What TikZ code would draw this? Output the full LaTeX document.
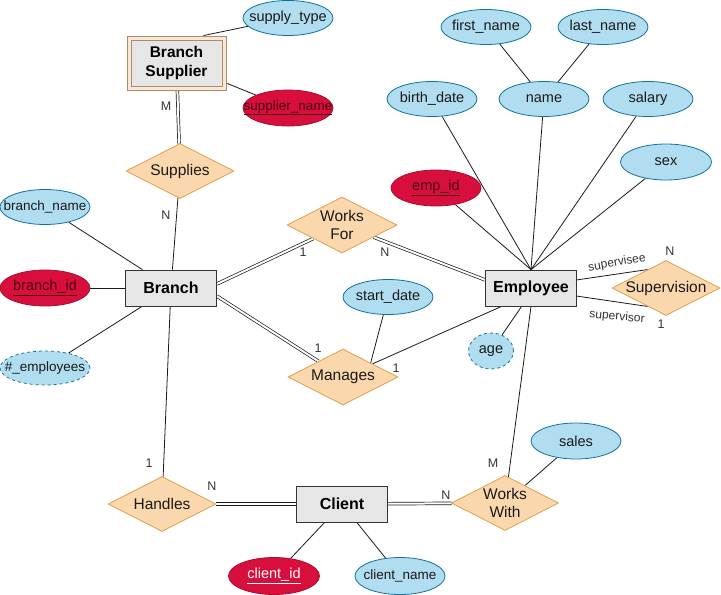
\documentclass[tikz,border=0pt]{standalone}
\usepackage{fontspec}
\setmainfont{Liberation Sans}
\usetikzlibrary{shapes.geometric,calc,backgrounds}
\definecolor{attrfill}{HTML}{B1DDF0}
\definecolor{attrdraw}{HTML}{10739E}
\definecolor{keyfill}{HTML}{D80F3C}
\definecolor{keydraw}{HTML}{A50F2D}
\definecolor{keytext}{HTML}{4A0010}
\definecolor{relfill}{HTML}{FAD7AC}
\definecolor{reldraw}{HTML}{E0A050}
\definecolor{entfill}{HTML}{E6E6E6}
\definecolor{entdraw}{HTML}{333333}
\definecolor{txt}{HTML}{1A1A1A}
\definecolor{cardc}{HTML}{333333}
\definecolor{wkfill}{HTML}{F5E8DA}
\definecolor{wkdraw}{HTML}{B38A63}
\begin{document}
\begin{tikzpicture}[x=1pt,y=-1pt,
  attr/.style={ellipse, draw=attrdraw, fill=attrfill, minimum width=90pt, minimum height=35pt, inner sep=0pt, line width=0.8pt},
  keyattr/.style={attr, draw=keydraw, fill=keyfill},
  derived/.style={attr, dashed},
  atxt/.style={font=\fontsize{14.5}{17}\selectfont, text=txt, inner sep=0pt},
  stxt/.style={atxt, font=\fontsize{13.5}{16}\selectfont},
  ktxt/.style={atxt, text=keytext},
  rel/.style={diamond, draw=reldraw, fill=relfill, minimum width=108pt, minimum height=55pt, inner sep=0pt, line width=0.8pt},
  rtxt/.style={atxt, align=center, font=\fontsize{15.5}{18}\selectfont},
  ent/.style={rectangle, draw=entdraw, fill=entfill, minimum width=91pt, minimum height=36pt, inner sep=0pt, font=\bfseries\fontsize{16}{18}\selectfont, text=black, line width=0.8pt},
  conn/.style={draw=txt, line width=0.8pt},
  dbl/.style={draw=txt, line width=0.7pt, double=white, double distance=2pt},
  cardlbl/.style={font=\fontsize{12.5}{14}\selectfont, text=cardc, inner sep=0pt},
  rolelbl/.style={font=\fontsize{12}{14}\selectfont, text=cardc, inner sep=0pt}
]
\useasboundingbox (0,0) rectangle (721,595);

% weak entity
\node[rectangle, draw=wkdraw, fill=wkfill, line width=0.9pt, minimum width=99pt, minimum height=54pt, inner sep=0pt] (bs) at (176.5,63) {};
\node[rectangle, draw=wkdraw, fill=entfill, line width=0.9pt, minimum width=91pt, minimum height=46pt, inner sep=0pt, align=center, font=\bfseries\fontsize{15.5}{18.5}\selectfont] (bsi) at (bs) {Branch\\Supplier};
\node[attr, label={[atxt]center:supply\_type}] (st) at (288,18) {};
\node[keyattr, minimum height=36pt, label={[stxt,text=keytext]center:\underline{supplier\_name}}] (sn) at (288,108) {};
\node[rel, label={[rtxt]center:Supplies}] (sup) at (180,171) {};

% Branch
\node[ent] (br) at (171,288) {Branch};
\node[attr, label={[stxt]center:branch\_name}] (bn) at (45,207) {};
\node[keyattr, minimum height=36pt, label={[ktxt]center:\underline{branch\_id}}] (bid) at (45,288) {};
\node[derived, minimum height=34pt, label={[stxt]center:\#\_employees}] (ne) at (45,368) {};

% relationships middle
\node[rel, minimum width=110pt, minimum height=56pt, label={[rtxt]center:{Works\\For}}] (wf) at (342,225) {};
\node[rel, minimum width=110pt, minimum height=56pt, label={[rtxt]center:Manages}] (man) at (343,377) {};
\node[attr, label={[atxt]center:start\_date}] (sd) at (388,297) {};

% Employee
\node[ent] (emp) at (531,288) {Employee};
\node[keyattr, minimum height=36pt, label={[ktxt]center:\underline{emp\_id}}] (eid) at (436,188) {};
\node[attr, label={[atxt]center:birth\_date}] (bd) at (432,99) {};
\node[attr, label={[atxt]center:name}] (nm) at (544,99) {};
\node[attr, label={[atxt]center:salary}] (sal) at (648,99) {};
\node[attr, minimum width=91pt, minimum height=36pt, label={[atxt]center:sex}] (sx) at (666,162) {};
\node[attr, label={[atxt]center:first\_name}] (fn) at (486,27) {};
\node[attr, label={[atxt]center:last\_name}] (ln) at (603,27) {};
\node[rel, label={[rtxt]center:Supervision}] (sv) at (666,288) {};
\node[derived, minimum width=45pt, minimum height=36pt, label={[atxt]center:age}] (age) at (491,351) {};

% bottom
\node[rel, minimum width=107pt, label={[rtxt]center:{Works\\With}}] (ww) at (505,503) {};
\node[attr, minimum height=36pt, label={[atxt]center:sales}] (sa) at (576,441) {};
\node[ent] (cl) at (342,504) {Client};
\node[rel, label={[rtxt]center:Handles}] (han) at (162,504) {};
\node[keyattr, minimum width=91pt, minimum height=37pt, label={[atxt, text=white]center:\underline{client\_id}}] (cid) at (274,576) {};
\node[attr, minimum height=37pt, label={[stxt]center:client\_name}] (cn) at (400,576) {};

% cardinality labels
\node[cardlbl] (c1) at (166,106) {M};
\node[cardlbl] (c2) at (166,215) {N};
\node[cardlbl] (c3) at (303,252) {1};
\node[cardlbl] (c4) at (385,252) {N};
\node[cardlbl] (c5) at (318,348) {1};
\node[cardlbl] (c6) at (396,368) {1};
\node[cardlbl] (c7) at (670,251) {N};
\node[cardlbl] (c8) at (661,324) {1};
\node[cardlbl] (c9) at (493,463) {M};
\node[cardlbl] (c10) at (446,495) {N};
\node[cardlbl] (c11) at (149,463) {1};
\node[cardlbl] (c12) at (212,486) {N};
\node[rolelbl, rotate=10] (r1) at (617,263) {supervisee};
\node[rolelbl, rotate=-5] (r2) at (617,317) {supervisor};

\begin{scope}[on background layer]
  % Branch Supplier
  \draw[conn] (st) -- ($(bs.north)+(27,0)$);
  \draw[conn] (sn) -- (bs.-22);
  \draw[dbl] (bs) -- (sup);
  \draw[conn] (sup) -- (br);
  % Branch attrs
  \draw[conn] (bn) -- (br);
  \draw[conn] (bid) -- (br);
  \draw[conn] (ne) -- (br);
  % Works For / Manages
  \draw[dbl] (br.5) -- (wf);
  \draw[dbl] (wf) -- (emp.170);
  \draw[dbl] (br.-10) -- (man);
  \draw[conn] (man) -- (emp.-148);
  \draw[conn] (sd) -- (man.north east);
  % Employee attrs
  \draw[conn] (eid) -- (emp.north);
  \draw[conn] (bd) -- (emp.north);
  \draw[conn] (nm) -- (emp.north);
  \draw[conn] (sal) -- (emp.north);
  \draw[conn] (sx) -- (emp.north);
  \draw[conn] (fn) -- (nm);
  \draw[conn] (ln) -- (nm);
  \draw[conn] (age) -- (emp.-117);
  \draw[conn] (emp.10) -- (sv.135);
  \draw[conn] (emp.-10) -- (sv.225);
  % bottom
  \draw[conn] (emp.south) -- (ww);
  \draw[conn] (sa) -- (ww);
  \draw[dbl] (cl) -- (ww);
  \draw[conn] (br) -- (han);
  \draw[dbl] (han) -- (cl);
  \draw[conn] (cid) -- (cl);
  \draw[conn] (cn) -- (cl);
\end{scope}
\end{tikzpicture}
\end{document}
